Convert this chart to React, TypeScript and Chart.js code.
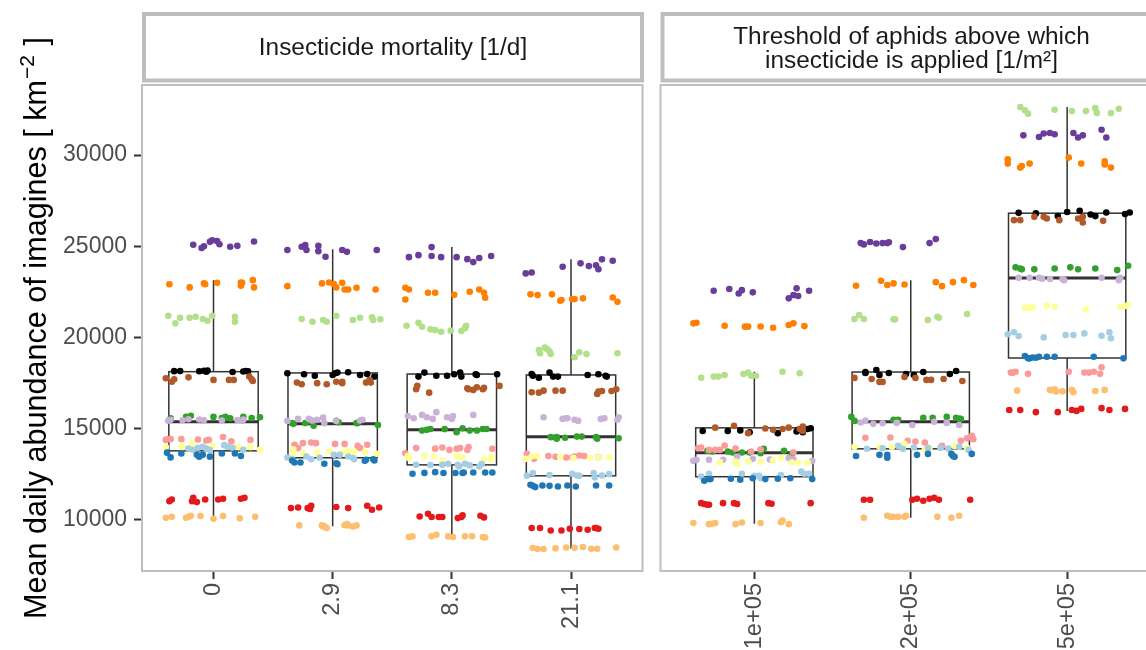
import React, { useEffect, useRef } from "react";
import { Chart, registerables } from "chart.js";

Chart.register(...registerables);

// ---------- categories / labels ----------
const leftCategories = ["0", "2.9", "8.3", "21.1"];
const rightCategories = ["1e+05", "2e+05", "5e+05"];
const leftStrip = ["Insecticide mortality [1/d]"];
const rightStrip = ["Threshold of aphids above which", "insecticide is applied [1/m²]"];
const yTicks = [10000, 15000, 20000, 25000, 30000];
const yTitleMain = "Mean daily abundance of imagines [ km";
const yTitleSup = "−2";
const yTitleEnd = " ]";

// ---------- box statistics (7 categories: left 4, right 3) ----------
const boxLow = [10110, 9640, 9050, 8420, 9780, 10110, 15970];
const boxQ1 = [13780, 13400, 13010, 12410, 12360, 13890, 18870];
const boxMedian = [15380, 15260, 14930, 14550, 13670, 15370, 23250];
const boxQ3 = [18120, 18050, 17990, 17940, 15040, 18100, 26810];
const boxHigh = [23140, 24840, 24950, 24280, 18120, 23140, 32630];

// ---------- jittered points: per group, per category, [x offset (1/100 category), value] ----------
const lightBluePts = [
  [[-17,13840],[-13,13950],[-9,14000],[-6,13900],[-3,13820],[9,14090],[12,14000],[16,13950],[25,13840],[-21,13900]],
  [[-38,13410],[-34,13320],[-22,13470],[-18,13320],[1,13560],[6,13560],[13,13470],[17,13380],[18,13320],[-11,13400]],
  [[-30,13010],[-8,13010],[-3,13070],[5,13010],[6,12920],[11,13070],[23,12920],[25,13050],[-18,13000],[15,12980]],
  [[-37,12410],[-32,12560],[1,12520],[5,12430],[7,12410],[19,12560],[20,12320],[26,12430],[32,12500],[-18,12450]],
  [[-34,12370],[-29,12520],[-8,12520],[0,12410],[3,12410],[4,12280],[30,12640],[32,12520],[35,12520],[17,12450]],
  [[-28,13890],[-8,14050],[-5,13890],[11,13940],[19,13940],[31,14000],[37,13830],[-18,13920],[2,13960],[24,13900]],
  [[-38,20170],[-34,20280],[-31,20080],[-15,20000],[-1,20130],[4,20130],[11,20220],[22,20090],[27,20280],[28,19950]],
];
const darkBluePts = [
  [[-39,13680],[-36,13420],[-27,13640],[-14,13560],[-12,13460],[-9,13560],[-3,13460],[7,13640],[18,13640],[23,13500]],
  [[-34,13250],[-32,13140],[-27,13140],[-7,13070],[3,13100],[4,13050],[27,13230],[28,13290],[34,13320],[35,13250]],
  [[-33,12520],[-14,12610],[-7,12560],[3,12560],[9,12560],[10,12590],[18,12590],[28,12590],[34,12590],[-23,12570]],
  [[-34,11920],[-32,11860],[-30,11790],[-24,11880],[-18,11860],[-11,11820],[-3,11880],[4,11820],[21,11880],[32,11880]],
  [[-32,12140],[-29,12230],[-28,12230],[-15,12250],[-9,12190],[-1,12280],[7,12230],[15,12250],[23,12280],[37,12230]],
  [[-35,13500],[-20,13560],[-15,13560],[-15,13400],[4,13560],[11,13610],[26,13610],[27,13500],[28,13450],[39,13610]],
  [[-27,18980],[-25,18850],[-24,18850],[-18,18940],[-13,18940],[-8,18940],[17,18940],[36,18850],[-22,18900],[-20,18880]],
];
const lightGreenPts = [
  [[-38,21190],[-32,20770],[-28,21080],[-20,21080],[-15,21130],[-9,21010],[-5,20910],[-1,21190],[18,21130],[18,20860]],
  [[-26,21010],[-17,20860],[-8,20950],[-5,20860],[3,21190],[17,20950],[23,21080],[33,21100],[34,20950],[40,20990]],
  [[-38,20640],[-28,20800],[-25,20580],[-14,20400],[-9,20310],[-1,20370],[8,20350],[11,20500],[12,20640],[-18,20450]],
  [[-27,19310],[-26,19130],[-22,19440],[-20,19350],[-18,19220],[-17,19090],[3,18910],[7,19180],[13,19090],[39,19130]],
  [[-34,17790],[-26,17850],[-23,17850],[-19,17940],[-7,17990],[-4,18070],[-2,17890],[1,17890],[18,18120],[29,18030]],
  [[-36,21010],[-33,21230],[-30,21010],[-11,20990],[-10,20990],[11,20950],[17,21130],[18,21080],[36,21280]],
  [[-30,32630],[-27,32450],[-25,32270],[-8,32480],[3,32410],[12,32410],[18,32570],[19,32300],[28,32300],[33,32540]],
];
const greenPts = [
  [[-36,15560],[-23,15650],[-19,15700],[0,15640],[7,15580],[10,15640],[14,15560],[25,15640],[32,15580],[39,15620]],
  [[-34,15300],[-33,15260],[-23,15300],[-19,15420],[-16,15150],[3,15420],[5,15350],[20,15300],[21,15300],[38,15190]],
  [[-25,14890],[-21,14930],[-18,14980],[-6,14970],[4,14800],[9,15020],[15,14890],[21,14890],[26,14980],[29,14980]],
  [[-17,14530],[-13,14510],[-12,14440],[-12,14530],[5,14560],[9,14560],[21,14530],[22,14440],[40,14470],[-5,14500]],
  [[-30,13780],[-27,13740],[-17,13740],[-14,13690],[-8,13690],[-3,13690],[4,13650],[6,13890],[19,13780],[24,13610]],
  [[-38,15640],[-36,15420],[-11,15480],[-8,15480],[8,15590],[14,15590],[23,15640],[29,15590],[31,15530],[32,15530]],
  [[-33,23840],[-30,23780],[-29,23730],[-21,23730],[-8,23780],[2,23840],[7,23740],[18,23780],[32,23690],[39,23930]],
];
const pinkPts = [
  [[-40,14380],[-38,14420],[-36,14420],[-27,14420],[-6,14350],[-4,14380],[8,14540],[15,14300],[31,14380],[-13,14400]],
  [[-32,14110],[-29,13930],[-25,14200],[-18,14230],[-14,14200],[2,14160],[21,14050],[23,13930],[29,14110],[10,14160]],
  [[-39,13650],[-30,13930],[-8,13960],[-2,13830],[4,13890],[7,13930],[13,13830],[14,13980],[34,13890],[-14,13900]],
  [[-37,13610],[-31,13340],[-19,13500],[-4,13410],[1,13410],[3,13470],[7,13520],[11,13500],[23,13430],[-13,13450]],
  [[-36,13930],[-34,13960],[-29,13830],[-25,13830],[-22,13830],[-19,14070],[-2,13740],[25,13690],[-12,13900],[4,13850]],
  [[-29,14490],[-13,14510],[-2,14330],[3,14290],[9,14230],[20,14050],[32,14330],[36,14470],[39,14600],[40,14420]],
  [[-36,18070],[-33,18120],[-25,18000],[1,18120],[11,18070],[14,18070],[17,18120],[21,18000],[22,18360],[-35,18050]],
];
const redPts = [
  [[-37,11020],[-35,11110],[-18,11020],[-17,11200],[-14,10970],[-7,11110],[4,11110],[8,11150],[23,11150],[26,11200]],
  [[-35,10640],[-29,10670],[-21,10640],[-19,10590],[-18,10770],[3,10700],[13,10640],[29,10770],[33,10550],[39,10670]],
  [[-20,10330],[-17,10150],[-11,10150],[-8,10150],[5,10090],[8,10150],[9,10240],[24,10220],[27,10130],[-27,10180]],
  [[-33,9550],[-26,9550],[-17,9410],[-8,9410],[-1,9510],[7,9490],[14,9450],[20,9550],[21,9550],[23,9510]],
  [[-34,10910],[-32,10860],[-30,10820],[-29,10820],[-20,10910],[-13,10910],[-11,10860],[9,10910],[11,10880],[36,10910]],
  [[-30,11100],[-26,11100],[1,11100],[4,11150],[8,11040],[12,11150],[15,11200],[18,11100],[38,11100]],
  [[-37,16020],[-30,16020],[-20,15900],[-6,15900],[3,16020],[6,15970],[9,16080],[22,16120],[27,16020],[37,16080]],
];
const lightOrangePts = [
  [[-40,10110],[-35,10160],[-23,10110],[-21,10160],[-19,10220],[-11,10200],[0,10050],[8,10200],[22,10080],[35,10160]],
  [[-28,9690],[-9,9690],[-8,9630],[-5,9550],[12,9760],[13,9690],[17,9630],[20,9690],[-7,9640],[10,9700]],
  [[-36,9050],[-33,9090],[-17,9090],[-13,9180],[-3,9090],[1,9050],[11,9090],[17,9090],[26,9050],[28,9030]],
  [[-32,8450],[-28,8400],[-23,8400],[-4,8480],[10,8510],[17,8410],[22,8410],[38,8480],[3,8460],[-13,8430]],
  [[-39,9820],[-29,9760],[-27,9780],[-25,9820],[-12,9760],[-8,9850],[17,9870],[18,9960],[22,9760],[4,9820]],
  [[-30,10110],[-15,10220],[-13,10160],[-11,10160],[-8,10160],[-4,10160],[-3,10220],[17,10160],[26,10110],[31,10220]],
  [[-32,17080],[-11,17120],[-8,17160],[-7,17030],[3,17120],[4,16990],[18,17060],[24,17120],[-10,17100],[-3,17050]],
];
const orangePts = [
  [[-37,22910],[-20,22740],[-8,22960],[-7,22920],[3,22990],[23,23010],[23,22830],[24,22990],[33,23140],[34,22740]],
  [[-38,22810],[-9,22960],[-3,23010],[1,22920],[3,22740],[8,22990],[10,22630],[13,22630],[20,22720],[36,22630]],
  [[-39,22720],[-36,22630],[-39,22080],[-20,22450],[-14,22450],[2,22340],[23,22630],[27,22450],[28,22170],[15,22500]],
  [[-34,22360],[-28,22320],[-16,22360],[-9,22010],[-8,22050],[1,22100],[3,22100],[10,22140],[35,22190],[39,21950]],
  [[-39,20770],[-37,20800],[-19,20640],[-6,20590],[-4,20590],[12,20530],[22,20680],[25,20770],[32,20620],[4,20600]],
  [[-35,22830],[-19,23100],[-15,22870],[-11,22960],[-4,22900],[16,23030],[20,22810],[27,23030],[34,23140],[40,22870]],
  [[-38,29770],[-38,29530],[-30,29310],[-29,29400],[-24,29530],[1,29860],[9,29530],[24,29480],[24,29660],[28,29310]],
];
const lightPurplePts = [
  [[-38,15430],[-36,15480],[-26,15460],[-12,15500],[-8,15450],[20,15470],[24,15430],[25,15490],[7,15440],[-21,15510]],
  [[-38,15420],[-29,15530],[-20,15530],[-17,15440],[-13,15480],[-8,15600],[-7,15300],[3,15420],[23,15440],[25,15480]],
  [[-37,15690],[-32,15570],[-25,15750],[-21,15620],[-16,15530],[-13,15900],[-4,15620],[0,15530],[1,15690],[18,15750]],
  [[-23,15620],[-7,15530],[-4,15570],[-3,15570],[3,15480],[6,15420],[25,15530],[28,15570],[40,15620],[39,15480]],
  [[-39,13230],[-37,13290],[-29,13290],[-20,13290],[-11,13470],[-1,13340],[22,13380],[25,13320],[37,13230],[10,13300]],
  [[-32,15330],[-29,15440],[-24,15260],[-18,15290],[1,15200],[15,15370],[23,15310],[31,15200],[-9,15310]],
  [[-31,23270],[-24,23270],[-18,23270],[-11,23200],[-3,23200],[-2,23140],[22,23270],[33,23140],[34,23270],[-16,23220]],
];
const purplePts = [
  [[-17,25080],[-10,24900],[-8,25000],[-3,25240],[-1,25330],[3,25280],[5,25110],[14,24970],[20,25020],[34,25260]],
  [[-38,24790],[-26,24970],[-23,25060],[-22,24790],[-12,25020],[-12,24730],[-6,24420],[8,24790],[12,24690],[37,24790]],
  [[-36,24400],[-28,24510],[-17,24950],[-17,24460],[-9,24400],[4,24400],[13,24290],[18,24130],[23,24350],[33,24460]],
  [[-38,23510],[-33,23560],[-7,23870],[8,24060],[15,23910],[21,23960],[23,23740],[26,24280],[35,24200]],
  [[-26,22560],[-16,22650],[-10,22410],[-8,22590],[-1,22470],[22,22140],[25,22320],[27,22690],[28,22270],[35,22560]],
  [[-32,25170],[-30,25100],[-26,25230],[-22,25150],[-18,25170],[-15,25170],[-14,25220],[-5,24950],[12,25170],[16,25390]],
  [[-28,31080],[-18,30990],[-15,31180],[-11,31210],[-8,31140],[4,31210],[7,30960],[10,31080],[22,31390],[25,30960]],
];
const yellowPts = [
  [[-40,13980],[-27,14050],[-26,13980],[-18,14190],[-1,14050],[18,13980],[21,13980],[31,13980],[39,13830],[-8,14000]],
  [[-33,13870],[-33,13650],[-25,13650],[-3,13740],[8,13690],[13,13780],[18,13740],[27,13710],[37,13610],[-13,13700]],
  [[-37,13500],[-36,13380],[-23,13500],[-15,13500],[-8,13250],[4,13500],[9,13430],[27,13320],[33,13320],[33,13470]],
  [[-38,13340],[-33,13470],[-28,13500],[2,13380],[23,13410],[32,13430],[16,13400],[-9,13450]],
  [[-22,13160],[-12,13190],[-11,13050],[-4,13190],[12,13250],[17,13380],[24,13140],[28,13140],[34,13140],[4,13180]],
  [[-36,14000],[-20,14000],[-4,14160],[9,13830],[12,13940],[28,14050],[36,13940],[-12,14000]],
  [[-27,21630],[-24,21630],[-13,21740],[-8,21680],[12,21550],[34,21680],[37,21720],[39,21770],[-22,21650]],
];
const brownPts = [
  [[-40,17760],[-35,17570],[-33,17700],[-21,17810],[0,17670],[13,17670],[17,17670],[30,17850],[32,17700],[33,17610]],
  [[-30,17520],[-26,17430],[-13,17490],[-5,17430],[3,17570],[8,17490],[8,17570],[28,17520],[31,17670],[32,17520]],
  [[-30,17160],[-29,17350],[-19,16970],[13,17210],[14,17160],[18,17120],[21,17270],[26,17160],[27,17240],[40,17340]],
  [[-33,16990],[-27,16970],[-23,17080],[-13,17080],[-7,17080],[22,16900],[23,17030],[26,17060],[34,17060],[38,17160]],
  [[-25,15050],[-13,15150],[-4,14750],[12,14930],[18,14980],[22,15050],[29,14970],[31,15110],[31,14870],[7,15000]],
  [[-36,17780],[-25,17720],[-20,17560],[-18,17560],[-4,17830],[3,17780],[10,17670],[13,17670],[21,17720],[33,17610]],
  [[-34,26430],[-30,26430],[-21,26610],[-15,26610],[-13,26520],[-5,26430],[7,26520],[10,26610],[10,26300],[23,26390]],
];
const blackPts = [
  [[-33,18150],[-28,18160],[-12,18140],[-8,18170],[-6,18120],[-5,18180],[16,18100],[25,18130],[27,18160],[29,18140]],
  [[-38,18030],[-24,17980],[-15,17900],[0,17940],[2,18030],[4,18070],[13,18090],[23,17940],[29,17990],[35,17850]],
  [[-28,17850],[-23,18070],[-13,17900],[-4,17900],[2,17980],[7,18070],[8,17850],[20,17980],[21,17940],[38,17980]],
  [[-33,17990],[-32,17900],[-27,17790],[-18,18070],[-15,17850],[-11,17850],[14,17940],[23,17980],[29,17900],[30,17850]],
  [[-33,14870],[-17,14870],[-3,14800],[15,14750],[27,14840],[28,14930],[31,14800],[34,14980],[36,15020],[-9,14900]],
  [[-29,18050],[-29,18100],[-22,18210],[-20,17940],[-14,18050],[-3,17990],[2,17940],[8,18100],[25,17990],[29,18160]],
  [[-31,26830],[-20,26800],[-6,26650],[0,26880],[8,26940],[15,26740],[18,26650],[25,26850],[37,26760],[40,26850]],
];

const groups = [
  { color: "#FDBF6F", pts: lightOrangePts },
  { color: "#E31A1C", pts: redPts },
  { color: "#1F78B4", pts: darkBluePts },
  { color: "#A6CEE3", pts: lightBluePts },
  { color: "#FFFF99", pts: yellowPts },
  { color: "#FB9A99", pts: pinkPts },
  { color: "#CAB2D6", pts: lightPurplePts },
  { color: "#33A02C", pts: greenPts },
  { color: "#B15928", pts: brownPts },
  { color: "#000000", pts: blackPts },
  { color: "#B2DF8A", pts: lightGreenPts },
  { color: "#FF7F00", pts: orangePts },
  { color: "#6A3D9A", pts: purplePts },
];

const FONT = "'Liberation Sans', Arial, Helvetica, sans-serif";
const Y_MIN = 7190;
const Y_MAX = 33840;
const CANVAS_W = 1180;
const CANVAS_H = 650;
const BORDER = "#BEBEBE";

function makeDatasets(start: number, count: number) {
  return groups.map((g) => ({
    type: "scatter" as const,
    data: g.pts.slice(start, start + count).flatMap((list, ci) =>
      list.map(([dx, y]) => ({ x: ci + 1 + dx / 100, y }))
    ),
    backgroundColor: g.color,
    borderWidth: 0,
    pointRadius: 3.3,
    pointHoverRadius: 3.3,
  }));
}

function facetPlugin(start: number, count: number, strip: string[], drawYTitle: boolean) {
  return {
    id: "facet" + start,
    beforeDatasetsDraw(chart: any) {
      const { ctx } = chart;
      const xs = chart.scales.x;
      const ys = chart.scales.y;
      ctx.save();
      ctx.strokeStyle = "#333333";
      for (let i = 0; i < count; i++) {
        const k = start + i;
        const c = i + 1;
        const x0 = xs.getPixelForValue(c - 0.375);
        const x1 = xs.getPixelForValue(c + 0.375);
        const xc = xs.getPixelForValue(c);
        const yLo = ys.getPixelForValue(boxLow[k]);
        const yQ1 = ys.getPixelForValue(boxQ1[k]);
        const yMed = ys.getPixelForValue(boxMedian[k]);
        const yQ3 = ys.getPixelForValue(boxQ3[k]);
        const yHi = ys.getPixelForValue(boxHigh[k]);
        ctx.lineWidth = 1.5;
        ctx.beginPath();
        ctx.moveTo(xc, yQ3);
        ctx.lineTo(xc, yHi);
        ctx.moveTo(xc, yQ1);
        ctx.lineTo(xc, yLo);
        ctx.stroke();
        ctx.strokeRect(x0, yQ3, x1 - x0, yQ1 - yQ3);
        ctx.lineWidth = 3;
        ctx.beginPath();
        ctx.moveTo(x0, yMed);
        ctx.lineTo(x1, yMed);
        ctx.stroke();
      }
      ctx.restore();
    },
    afterDatasetsDraw(chart: any) {
      const { ctx, chartArea } = chart;
      ctx.save();
      // panel border
      ctx.strokeStyle = BORDER;
      ctx.lineWidth = 2;
      ctx.strokeRect(chartArea.left, chartArea.top, chartArea.right - chartArea.left, chartArea.bottom - chartArea.top);
      // strip
      const sx0 = chartArea.left + 2;
      const sx1 = chartArea.right - 0.5;
      const sy0 = 14;
      const sy1 = 80.5;
      ctx.fillStyle = "#FFFFFF";
      ctx.fillRect(sx0, sy0, sx1 - sx0, sy1 - sy0);
      ctx.lineWidth = 4;
      ctx.strokeRect(sx0, sy0, sx1 - sx0, sy1 - sy0);
      ctx.fillStyle = "#1A1A1A";
      ctx.font = `24.4px ${FONT}`;
      ctx.textAlign = "center";
      ctx.textBaseline = "middle";
      const cx = (sx0 + sx1) / 2;
      if (strip.length === 1) {
        ctx.fillText(strip[0], cx, 48.5);
      } else {
        ctx.fillText(strip[0], cx, 37);
        ctx.fillText(strip[1], cx, 61.5);
      }
      if (drawYTitle) {
        const mid = (chartArea.top + chartArea.bottom) / 2;
        ctx.translate(46, mid);
        ctx.rotate(-Math.PI / 2);
        ctx.fillStyle = "#000000";
        ctx.textBaseline = "alphabetic";
        ctx.textAlign = "left";
        const mainFont = `30.6px ${FONT}`;
        const supFont = `21px ${FONT}`;
        ctx.font = mainFont;
        const w1 = ctx.measureText(yTitleMain).width;
        const w3 = ctx.measureText(yTitleEnd).width;
        ctx.font = supFont;
        const w2 = ctx.measureText(yTitleSup).width;
        const total = w1 + w2 + w3 + 2;
        let x = -total / 2;
        ctx.font = mainFont;
        ctx.fillText(yTitleMain, x, 0);
        x += w1 + 1;
        ctx.font = supFont;
        ctx.fillText(yTitleSup, x, -12);
        x += w2 + 1;
        ctx.font = mainFont;
        ctx.fillText(yTitleEnd, x, 0);
      }
      ctx.restore();
    },
  };
}

function makeConfig(start: number, count: number, cats: string[], strip: string[], left: boolean): any {
  const tickFont = { family: FONT, size: 23 };
  const xTickFont = { family: FONT, size: 23.6 };
  const ticksArr = cats.map((_, i) => i + 1);
  const areaLeft = left ? 142 : 660.5;
  const areaRight = areaLeft + 500.5;
  const yWidth = left ? 142 : 0;
  return {
    type: "scatter",
    data: { datasets: makeDatasets(start, count) },
    options: {
      animation: false,
      responsive: false,
      devicePixelRatio: 1,
      events: [],
      layout: {
        padding: { left: areaLeft - yWidth, right: CANVAS_W - areaRight, top: 85, bottom: 0 },
      },
      plugins: { legend: { display: false }, tooltip: { enabled: false }, title: { display: false } },
      scales: {
        x: {
          type: "linear",
          min: 0.4,
          max: count + 0.6,
          afterBuildTicks: (axis: any) => {
            axis.ticks = ticksArr.map((v) => ({ value: v }));
          },
          afterFit: (axis: any) => {
            axis.height = CANVAS_H - 571;
          },
          ticks: {
            autoSkip: false,
            minRotation: 90,
            maxRotation: 90,
            padding: 4,
            color: "#4D4D4D",
            font: xTickFont,
            callback: (v: number) => cats[Math.round(v) - 1],
          },
          grid: {
            drawOnChartArea: false,
            drawTicks: true,
            tickLength: 8,
            tickColor: "#333333",
            tickWidth: 2,
          },
          border: { display: false },
        },
        y: {
          type: "linear",
          display: left,
          min: Y_MIN,
          max: Y_MAX,
          afterBuildTicks: (axis: any) => {
            axis.ticks = yTicks.map((v) => ({ value: v }));
          },
          afterFit: (axis: any) => {
            axis.width = yWidth;
          },
          ticks: {
            padding: 7,
            color: "#4D4D4D",
            font: tickFont,
            callback: (v: number) => String(v),
          },
          grid: {
            drawOnChartArea: false,
            drawTicks: true,
            tickLength: 8,
            tickColor: "#333333",
            tickWidth: 2,
          },
          border: { display: false },
        },
      },
    },
    plugins: [facetPlugin(start, count, strip, left)],
  };
}

export default function App() {
  const leftRef = useRef<HTMLCanvasElement | null>(null);
  const rightRef = useRef<HTMLCanvasElement | null>(null);

  useEffect(() => {
    const charts: Chart[] = [];
    if (leftRef.current) {
      charts.push(new Chart(leftRef.current, makeConfig(0, 4, leftCategories, leftStrip, true)));
    }
    if (rightRef.current) {
      charts.push(new Chart(rightRef.current, makeConfig(4, 3, rightCategories, rightStrip, false)));
    }
    return () => charts.forEach((c) => c.destroy());
  }, []);

  return (
    <div
      style={{
        position: "absolute",
        left: 0,
        top: 0,
        width: 1146,
        height: 650,
        overflow: "hidden",
        background: "#FFFFFF",
      }}
    >
      <canvas ref={leftRef} width={CANVAS_W} height={CANVAS_H} style={{ position: "absolute", left: 0, top: 0 }} />
      <canvas ref={rightRef} width={CANVAS_W} height={CANVAS_H} style={{ position: "absolute", left: 0, top: 0 }} />
    </div>
  );
}
